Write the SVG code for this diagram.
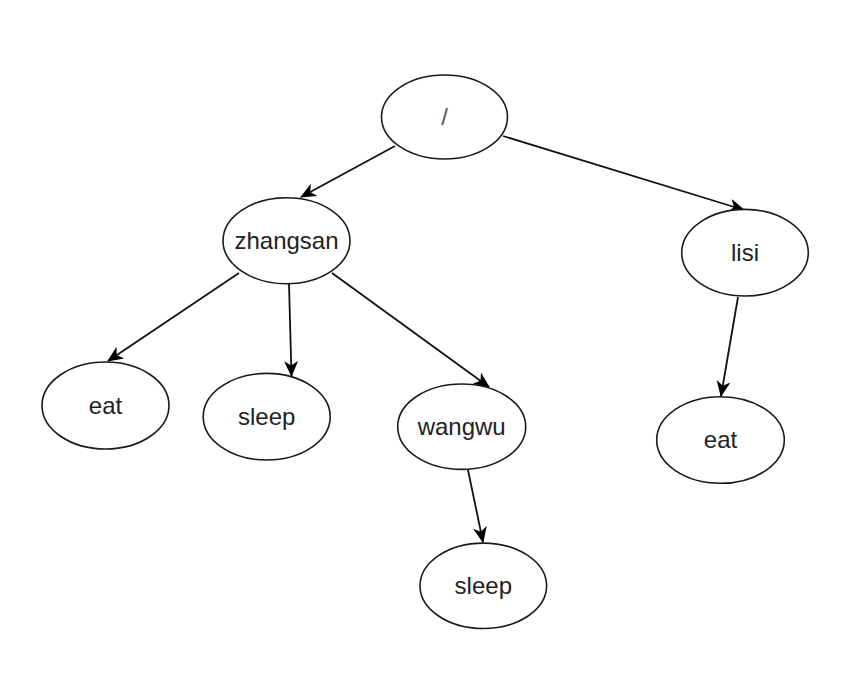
<svg xmlns="http://www.w3.org/2000/svg" width="849" height="692" viewBox="0 0 849 692">
<style>
.node ellipse{fill:#fff;stroke:#1a1a1a;stroke-width:1.6}
.node text{font-family:"Liberation Sans",Arial,sans-serif;font-size:24px;fill:#222;text-anchor:middle}
.edge{stroke:#111;stroke-width:1.8;fill:none;marker-end:url(#arrow)}
</style>
<defs>
<marker id="arrow" viewBox="0 0 16 16" refX="15" refY="8" markerWidth="16" markerHeight="16" markerUnits="userSpaceOnUse" orient="auto">
<path d="M0,1 L16,8 L0,15 L4.5,8 z" fill="#000"/>
</marker>
</defs>
<rect width="849" height="692" fill="#fff"/>
<g id="connectors">
<line class="edge" x1="395" y1="146" x2="301" y2="197"/>
<line class="edge" x1="503" y1="136" x2="744" y2="210"/>
<line class="edge" x1="239" y1="273" x2="108" y2="361"/>
<line class="edge" x1="289" y1="284" x2="291.5" y2="376"/>
<line class="edge" x1="332" y1="273" x2="489" y2="387"/>
<line class="edge" x1="468" y1="470" x2="483" y2="542"/>
<line class="edge" x1="738" y1="297" x2="721" y2="396"/>
</g>
<g id="n-root" class="node"><ellipse cx="444.5" cy="117" rx="63" ry="42"/><text x="444.5" y="125" style="fill:#555">/</text></g>
<g id="n-zhangsan" class="node"><ellipse cx="286.5" cy="240.7" rx="63.5" ry="43"/><text x="286.5" y="248.5">zhangsan</text></g>
<g id="n-lisi" class="node"><ellipse cx="745" cy="252.7" rx="63.3" ry="43.3"/><text x="745" y="260.5">lisi</text></g>
<g id="n-eat1" class="node"><ellipse cx="105.5" cy="405.5" rx="63.5" ry="43.5"/><text x="105.5" y="413.5">eat</text></g>
<g id="n-sleep1" class="node"><ellipse cx="266.7" cy="416.7" rx="63.5" ry="43.3"/><text x="266.7" y="424.5">sleep</text></g>
<g id="n-wangwu" class="node"><ellipse cx="461.7" cy="426.7" rx="64" ry="42.7"/><text x="461.7" y="434.5">wangwu</text></g>
<g id="n-sleep2" class="node"><ellipse cx="483.3" cy="585.8" rx="63.3" ry="42.7"/><text x="483.3" y="593.5">sleep</text></g>
<g id="n-eat2" class="node"><ellipse cx="720.5" cy="440" rx="63.8" ry="43.3"/><text x="720.5" y="448">eat</text></g>
</svg>
